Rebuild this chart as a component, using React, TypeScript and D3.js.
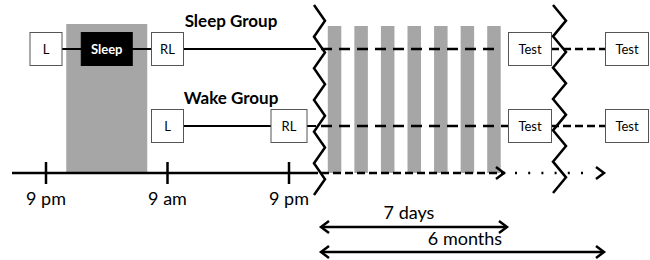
import React from "react";
import * as d3 from "d3";

// ---- data ----
const hourTicks = [0, 12, 24];
const hourLabels = ["9 pm", "9 am", "9 pm"];
const sleepPeriod = [2, 10]; // hours after 9 pm (11 pm – 7 am)
const sleepGroupBoxes = [
  { label: "L", hour: 0, kind: "plain" },
  { label: "Sleep", hour: 6, kind: "dark" },
  { label: "RL", hour: 12, kind: "plain" },
];
const wakeGroupBoxes = [
  { label: "L", hour: 12, kind: "plain" },
  { label: "RL", hour: 24, kind: "plain" },
];
const groupNames = ["Sleep Group", "Wake Group"];
const nightDays = [0, 1, 2, 3, 4, 5, 6];
const testPoints = ["7 days", "6 months"];
const spanLabels = ["7 days", "6 months"];

const W = 650;
const H = 260;
const FONT = "Lato, 'Open Sans', sans-serif";

export default function App() {
  const xHour = d3.scaleLinear().domain([0, 24]).range([46, 289]);
  const xDay = d3.scaleLinear().domain([0, 7]).range([321, 507]);
  const xTest = d3.scalePoint<string>().domain(testPoints).range([530, 627]);
  const xSpanEnd = d3.scalePoint<string>().domain(spanLabels).range([507, 604]);
  const yRow = d3.scalePoint<string>().domain(groupNames).range([49, 126]);
  const axisY = 173;
  const barTop = 25;

  const zig = (x0: number, x1: number, yTop: number, yBot: number, n: number) => {
    const pts: [number, number][] = d3.range(n + 1).map((i) => [
      i % 2 === 0 ? x0 : x1,
      yTop + ((yBot - yTop) * i) / n,
    ]);
    return d3.line()(pts) || "";
  };

  const chevronRight = (x: number, y: number) => `M${x - 8},${y - 6}L${x},${y}L${x - 8},${y + 6}`;
  const chevronLeft = (x: number, y: number) => `M${x + 8},${y - 6}L${x},${y}L${x + 8},${y + 6}`;

  const boxW = (label: string) => (label === "Sleep" ? 51 : label === "Test" ? 43 : 32);
  const boxH = 33;

  const renderBox = (label: string, cx: number, cy: number, kind: string, key: string) => {
    const w = boxW(label) + (label === "RL" && cx > 250 ? 4 : 0);
    return (
      <g key={key}>
        <rect
          x={cx - w / 2}
          y={cy - boxH / 2}
          width={w}
          height={boxH}
          fill={kind === "dark" ? "#000" : "#fff"}
          stroke={kind === "dark" ? "#000" : "#555"}
          strokeWidth={1}
        />
        <text
          x={cx}
          y={cy + 4.5}
          textAnchor="middle"
          fontSize={13}
          fontWeight={kind === "dark" ? 700 : 400}
          fill={kind === "dark" ? "#fff" : "#000"}
          fontFamily={FONT}
        >
          {label}
        </text>
      </g>
    );
  };

  const ySleep = yRow("Sleep Group")!;
  const yWake = yRow("Wake Group")!;

  return (
    <svg width={W} height={H} style={{ position: "absolute", left: 0, top: 0, background: "#fff" }}>
      {/* sleep shading */}
      <rect
        x={xHour(sleepPeriod[0])}
        y={barTop - 1}
        width={xHour(sleepPeriod[1]) - xHour(sleepPeriod[0])}
        height={axisY - barTop + 1}
        fill="#a6a6a6"
      />
      {/* nightly bars */}
      {nightDays.map((d) => (
        <rect
          key={d}
          x={xDay(d + 0.5) - 6.5}
          y={barTop + 1}
          width={13.5}
          height={axisY - barTop - 1}
          fill="#a6a6a6"
        />
      ))}

      {/* Sleep group row */}
      <line x1={xHour(0)} x2={316} y1={ySleep} y2={ySleep} stroke="#000" strokeWidth={2} />
      <line x1={xDay(0)} x2={xTest(testPoints[0])! - 33} y1={ySleep} y2={ySleep} stroke="#000" strokeWidth={2.5} strokeDasharray="11 7" />
      <line x1={xTest(testPoints[0])! + 21} x2={xTest(testPoints[1])! - 21} y1={ySleep} y2={ySleep} stroke="#000" strokeWidth={2.5} strokeDasharray="8 4" />
      {sleepGroupBoxes.map((b, i) => renderBox(b.label, xHour(b.hour), ySleep, b.kind, "s" + i))}
      {testPoints.map((t, i) => renderBox("Test", xTest(t)!, ySleep, "plain", "st" + i))}

      {/* Wake group row */}
      <line x1={xHour(12)} x2={xHour(24)} y1={yWake} y2={yWake} stroke="#000" strokeWidth={2} />
      <line x1={xHour(24)} x2={316} y1={yWake} y2={yWake} stroke="#000" strokeWidth={2} />
      <line x1={xDay(0)} x2={xTest(testPoints[0])! - 22} y1={yWake} y2={yWake} stroke="#000" strokeWidth={2.5} strokeDasharray="11 7" />
      <line x1={xTest(testPoints[0])! + 21} x2={xTest(testPoints[1])! - 21} y1={yWake} y2={yWake} stroke="#000" strokeWidth={2.5} strokeDasharray="8 4" />
      {wakeGroupBoxes.map((b, i) => renderBox(b.label, xHour(b.hour), yWake, b.kind, "w" + i))}
      {testPoints.map((t, i) => renderBox("Test", xTest(t)!, yWake, "plain", "wt" + i))}

      {/* group titles */}
      {groupNames.map((g) => (
        <text
          key={g}
          x={231}
          y={yRow(g)! - 22}
          textAnchor="middle"
          fontSize={17}
          fontWeight={700}
          fontFamily={FONT}
        >
          {g}
        </text>
      ))}

      {/* time axis */}
      <line x1={12} x2={318} y1={axisY} y2={axisY} stroke="#000" strokeWidth={2.5} />
      {hourTicks.map((h, i) => (
        <g key={i}>
          <line x1={xHour(h)} x2={xHour(h)} y1={axisY - 11} y2={axisY + 11} stroke="#000" strokeWidth={2.5} />
          <text x={xHour(h)} y={205} textAnchor="middle" fontSize={18} fontFamily={FONT}>
            {hourLabels[i]}
          </text>
        </g>
      ))}
      <line x1={xDay(0)} x2={xSpanEnd(spanLabels[0])! - 2} y1={axisY} y2={axisY} stroke="#000" strokeWidth={2.5} strokeDasharray="8 4" />
      <path d={chevronRight(xSpanEnd(spanLabels[0])! - 3, axisY)} fill="none" stroke="#000" strokeWidth={2.5} />
      <line x1={515} x2={594} y1={axisY} y2={axisY} stroke="#000" strokeWidth={2.5} strokeDasharray="2 11.2" />
      <path d={chevronRight(xSpanEnd(spanLabels[1])!, axisY)} fill="none" stroke="#000" strokeWidth={2.5} />

      {/* breaks */}
      <path d={zig(314, 325, 5, 195, 12)} fill="none" stroke="#000" strokeWidth={2.5} />
      <path d={zig(553, 566, 5, 193, 12)} fill="none" stroke="#000" strokeWidth={2.5} />

      {/* span arrows */}
      {spanLabels.map((s, i) => {
        const y = i === 0 ? 227 : 252;
        const x0 = xDay(0);
        const x1 = xSpanEnd(s)!;
        return (
          <g key={s}>
            <line x1={x0 + 1} x2={x1 - 1} y1={y} y2={y} stroke="#000" strokeWidth={2.5} />
            <path d={chevronLeft(x0, y)} fill="none" stroke="#000" strokeWidth={2.5} />
            <path d={chevronRight(x1, y)} fill="none" stroke="#000" strokeWidth={2.5} />
            <text
              x={i === 0 ? 409 : 465}
              y={i === 0 ? 219 : 245}
              textAnchor="middle"
              fontSize={18}
              fontFamily={FONT}
            >
              {s}
            </text>
          </g>
        );
      })}
    </svg>
  );
}
